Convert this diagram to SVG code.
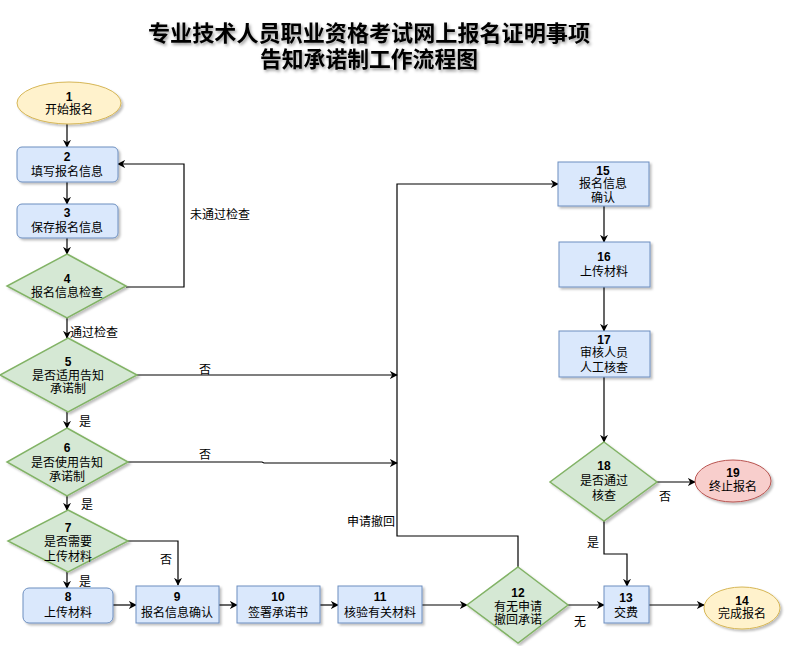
<svg xmlns="http://www.w3.org/2000/svg" width="799" height="646" viewBox="0 0 799 646">
<defs>
<marker id="arr" viewBox="0 0 10 10" refX="9" refY="5" markerWidth="8" markerHeight="8" orient="auto" markerUnits="userSpaceOnUse">
<path d="M0,0 L10,5 L0,10 L3,5 Z" fill="#000"/>
</marker>
<filter id="sh" x="-20%" y="-20%" width="150%" height="150%">
<feDropShadow dx="2" dy="2" stdDeviation="1.2" flood-color="#000" flood-opacity="0.25"/>
</filter>
<filter id="tsh" x="-5%" y="-20%" width="110%" height="160%">
<feDropShadow dx="1.5" dy="2" stdDeviation="1.5" flood-color="#000" flood-opacity="0.4"/>
</filter>
</defs>
<style>
text{font-family:"Liberation Sans","Noto Sans CJK SC",sans-serif;font-size:12px;fill:#000;}
.c{text-anchor:middle;}
.n{font-weight:bold;}
.t{font-size:22px;font-weight:bold;text-anchor:middle;}
.blue{fill:#dae8fc;stroke:#6c8ebf;stroke-width:1;}
.green{fill:#d5e8d4;stroke:#82b366;stroke-width:1.5;}
.yellow{fill:#fff2cc;stroke:#d6b656;stroke-width:1;}
.red{fill:#f8cecc;stroke:#b85450;stroke-width:1;}
.e{fill:none;stroke:#000;stroke-width:1.2;marker-end:url(#arr);}
.l{fill:none;stroke:#000;stroke-width:1.2;}
</style>
<rect width="799" height="646" fill="#fff"/>
<g id="title" filter="url(#tsh)">
<text class="t" x="369" y="41" textLength="442" lengthAdjust="spacingAndGlyphs">专业技术人员职业资格考试网上报名证明事项</text>
<text class="t" x="369" y="67" textLength="218" lengthAdjust="spacingAndGlyphs">告知承诺制工作流程图</text>
</g>
<g id="connectors">
<path class="e" d="M67,124 V147"/>
<path class="e" d="M67,182 V204"/>
<path class="e" d="M67,238 V254"/>
<path class="e" d="M126,287 H184 V164 H118"/>
<path class="e" d="M67,318 V338"/>
<path class="e" d="M137,375 H397"/>
<path class="e" d="M67,412 V428"/>
<path class="e" d="M128,462 H262 L264,463 H397"/>
<path class="e" d="M67,496 V510"/>
<path class="e" d="M128,541 H178 V585"/>
<path class="e" d="M67,572 V588"/>
<path class="e" d="M113,605 H136"/>
<path class="e" d="M219,605 H237"/>
<path class="e" d="M320,605 H338"/>
<path class="e" d="M422,605 H467"/>
<path class="e" d="M568,605 H604"/>
<path class="e" d="M649,605 H704"/>
<path class="e" d="M518,567 V536 H397 V184 H558"/>
<path class="e" d="M604,206 V242"/>
<path class="e" d="M604,287 V331"/>
<path class="e" d="M604,377 V442"/>
<path class="e" d="M657,482 H695"/>
<path class="e" d="M604,521 V554 H627 V586"/>
<text x="190" y="219">未通过检查</text>
<text x="70" y="337">通过检查</text>
<text x="199" y="374">否</text>
<text x="79" y="426">是</text>
<text x="199" y="459">否</text>
<text x="81" y="509">是</text>
<text x="160" y="564">否</text>
<text x="79" y="586">是</text>
<text x="347" y="526">申请撤回</text>
<text x="574" y="626">无</text>
<text x="659" y="501">否</text>
<text x="587" y="547">是</text>
</g>
<g id="n1"><ellipse class="yellow" filter="url(#sh)" cx="69" cy="103" rx="52" ry="21"/><text class="c n" x="69" y="101">1</text><text class="c" x="69" y="114">开始报名</text></g>
<g id="n2"><rect class="blue" filter="url(#sh)" x="17" y="147" width="101" height="35" rx="5"/><text class="c n" x="67" y="161">2</text><text class="c" x="67" y="176">填写报名信息</text></g>
<g id="n3"><rect class="blue" filter="url(#sh)" x="17" y="204" width="101" height="34" rx="5"/><text class="c n" x="67" y="217">3</text><text class="c" x="67" y="232">保存报名信息</text></g>
<g id="n4"><polygon class="green" filter="url(#sh)" points="67,254 126,286 67,318 7,286"/><text class="c n" x="67" y="283">4</text><text class="c" x="67" y="297">报名信息检查</text></g>
<g id="n5"><polygon class="green" filter="url(#sh)" points="68,338 137,375 68,412 0,375"/><text class="c n" x="68" y="366">5</text><text class="c" x="68" y="380">是否适用告知</text><text class="c" x="68" y="393">承诺制</text></g>
<g id="n6"><polygon class="green" filter="url(#sh)" points="67,428 128,462 67,496 7,462"/><text class="c n" x="67" y="452">6</text><text class="c" x="67" y="467">是否使用告知</text><text class="c" x="67" y="481">承诺制</text></g>
<g id="n7"><polygon class="green" filter="url(#sh)" points="68,510 128,541 68,572 8,541"/><text class="c n" x="68" y="532">7</text><text class="c" x="68" y="546">是否需要</text><text class="c" x="68" y="561">上传材料</text></g>
<g id="n8"><rect class="blue" filter="url(#sh)" x="23" y="588" width="90" height="35" rx="6"/><text class="c n" x="68" y="601">8</text><text class="c" x="68" y="617">上传材料</text></g>
<g id="n9"><rect class="blue" filter="url(#sh)" x="136" y="586" width="83" height="37"/><text class="c n" x="177" y="601">9</text><text class="c" x="177" y="617">报名信息确认</text></g>
<g id="n10"><rect class="blue" filter="url(#sh)" x="237" y="586" width="83" height="37"/><text class="c n" x="278" y="601">10</text><text class="c" x="278" y="617">签署承诺书</text></g>
<g id="n11"><rect class="blue" filter="url(#sh)" x="338" y="586" width="84" height="37"/><text class="c n" x="380" y="601">11</text><text class="c" x="380" y="617">核验有关材料</text></g>
<g id="n12"><polygon class="green" filter="url(#sh)" points="518,567 568,605 518,643 467,605"/><text class="c n" x="518" y="597">12</text><text class="c" x="518" y="611">有无申请</text><text class="c" x="518" y="624">撤回承诺</text></g>
<g id="n13"><rect class="blue" filter="url(#sh)" x="604" y="586" width="45" height="37"/><text class="c n" x="626" y="602">13</text><text class="c" x="626" y="617">交费</text></g>
<g id="n14"><ellipse class="yellow" filter="url(#sh)" cx="742" cy="608" rx="38" ry="21"/><text class="c n" x="742" y="605">14</text><text class="c" x="742" y="618">完成报名</text></g>
<g id="n15"><rect class="blue" filter="url(#sh)" x="558" y="162" width="91" height="44"/><text class="c n" x="603" y="175">15</text><text class="c" x="603" y="188">报名信息</text><text class="c" x="603" y="202">确认</text></g>
<g id="n16"><rect class="blue" filter="url(#sh)" x="559" y="242" width="91" height="45"/><text class="c n" x="604" y="261">16</text><text class="c" x="604" y="276">上传材料</text></g>
<g id="n17"><rect class="blue" filter="url(#sh)" x="559" y="331" width="91" height="46"/><text class="c n" x="604" y="344">17</text><text class="c" x="604" y="357">审核人员</text><text class="c" x="604" y="372">人工核查</text></g>
<g id="n18"><polygon class="green" filter="url(#sh)" points="604,442 657,482 604,521 550,482"/><text class="c n" x="604" y="470">18</text><text class="c" x="604" y="485">是否通过</text><text class="c" x="604" y="500">核查</text></g>
<g id="n19"><ellipse class="red" filter="url(#sh)" cx="733" cy="481" rx="38" ry="21"/><text class="c n" x="733" y="477">19</text><text class="c" x="733" y="491">终止报名</text></g>
</svg>
